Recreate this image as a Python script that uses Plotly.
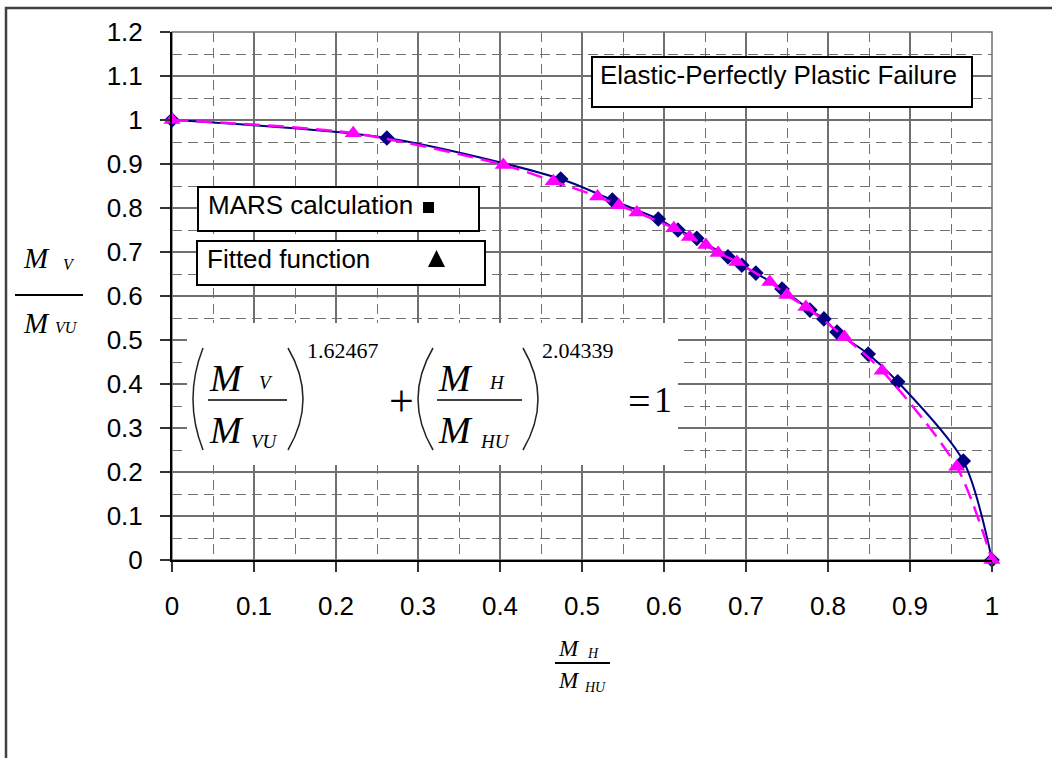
import plotly.graph_objects as go

# MARS calculation results (normalised moment capacities)
mars_x = [0.0, 0.262, 0.474, 0.537, 0.593, 0.617, 0.640, 0.678, 0.695, 0.712,
          0.744, 0.778, 0.795, 0.811, 0.849, 0.885, 0.965, 1.0]
mars_y = [1.0, 0.959, 0.866, 0.818, 0.775, 0.750, 0.731, 0.689, 0.670, 0.652,
          0.616, 0.568, 0.548, 0.518, 0.468, 0.405, 0.225, 0.0]

# Fitted interaction function points
fit_x = [0.0, 0.221, 0.404, 0.465, 0.519, 0.545, 0.567, 0.612, 0.631, 0.651,
         0.666, 0.689, 0.729, 0.750, 0.773, 0.820, 0.866, 0.957, 1.0]
fit_y = [1.0, 0.970, 0.898, 0.861, 0.826, 0.806, 0.790, 0.754, 0.734, 0.716,
         0.698, 0.677, 0.632, 0.602, 0.575, 0.507, 0.430, 0.212, 0.0]

x_ticks = [0, 0.1, 0.2, 0.3, 0.4, 0.5, 0.6, 0.7, 0.8, 0.9, 1]
x_ticklabels = ["0", "0.1", "0.2", "0.3", "0.4", "0.5", "0.6", "0.7", "0.8", "0.9", "1"]
y_ticks = [0, 0.1, 0.2, 0.3, 0.4, 0.5, 0.6, 0.7, 0.8, 0.9, 1, 1.1, 1.2]
y_ticklabels = ["0", "0.1", "0.2", "0.3", "0.4", "0.5", "0.6", "0.7", "0.8", "0.9", "1", "1.1", "1.2"]

exp_v = "1.62467"
exp_h = "2.04339"

W, H = 1052, 758
ML, MT, PW, PH = 172, 32, 820, 528
SANS = "Liberation Sans, Arial, sans-serif"
SERIF = "Liberation Serif, Times New Roman, serif"
NAVY = "#000080"
MAGENTA = "#FF00FF"
GRID = "#707070"


def fx(p):
    return (p - ML) / PW


def fy(p):
    return (MT + PH - p) / PH


fig = go.Figure()

fig.add_trace(go.Scatter(
    x=mars_x, y=mars_y, mode="lines+markers", name="MARS calculation",
    line=dict(color=NAVY, width=2, shape="spline", smoothing=0.8),
    marker=dict(symbol="diamond", size=12, color=NAVY),
    cliponaxis=False,
))
fig.add_trace(go.Scatter(
    x=fit_x, y=fit_y, mode="lines+markers", name="Fitted function",
    line=dict(color=MAGENTA, width=2.5, dash="16px,8px", shape="spline", smoothing=0.8),
    marker=dict(symbol="triangle-up", size=15, color=MAGENTA),
    cliponaxis=False,
))

shapes = []
annotations = []


def box(x0, y0, x1, y1, line=True):
    shapes.append(dict(
        type="rect", xref="paper", yref="paper", layer="above",
        x0=fx(x0), x1=fx(x1), y0=fy(y0), y1=fy(y1),
        line=dict(color="black", width=2 if line else 0),
        fillcolor="white",
    ))


def hline(x0, x1, y, width=1.5):
    shapes.append(dict(
        type="line", xref="paper", yref="paper", layer="above",
        x0=fx(x0), x1=fx(x1), y0=fy(y), y1=fy(y),
        line=dict(color="black", width=width),
    ))


def paren(x_end, x_ctrl, y_top, y_bot):
    ym = (y_top + y_bot) / 2
    path = "M {:.5f},{:.5f} Q {:.5f},{:.5f} {:.5f},{:.5f}".format(
        fx(x_end), fy(y_top), fx(x_ctrl), fy(ym), fx(x_end), fy(y_bot))
    shapes.append(dict(type="path", xref="paper", yref="paper", layer="above",
                       path=path, line=dict(color="#222222", width=1.5)))


def text(s, x, y, size, family=SANS, italic=False, xanchor="center"):
    if italic:
        s = "<i>" + s + "</i>"
    annotations.append(dict(
        text=s, x=fx(x), y=fy(y), xref="paper", yref="paper",
        xanchor=xanchor, yanchor="middle", showarrow=False,
        font=dict(family=family, size=size, color="black"),
    ))


# Plot-area frame (grey) and outer chart border
shapes.append(dict(type="rect", xref="paper", yref="paper", layer="below",
                   x0=0, x1=1, y0=0, y1=1, line=dict(color=GRID, width=1.5)))
shapes.append(dict(type="rect", xref="paper", yref="paper", layer="above",
                   x0=fx(6), x1=fx(1070), y0=fy(8), y1=fy(780),
                   line=dict(color="#404040", width=2.5), fillcolor="rgba(0,0,0,0)"))

# Title box
box(592, 57, 972, 107)
text("Elastic-Perfectly Plastic Failure", 598, 75, 26, xanchor="left")

# Legend-style boxes
box(198, 187, 479, 231)
text("MARS calculation", 206, 205, 26, xanchor="left")
shapes.append(dict(type="rect", xref="paper", yref="paper", layer="above",
                   x0=fx(423), x1=fx(434), y0=fy(213), y1=fy(202),
                   line=dict(width=0), fillcolor="black"))
box(197, 241, 485, 285)
text("Fitted function", 205, 259, 26, xanchor="left")
shapes.append(dict(type="path", xref="paper", yref="paper", layer="above",
                   path="M {:.5f},{:.5f} L {:.5f},{:.5f} L {:.5f},{:.5f} Z".format(
                       fx(428), fy(267), fx(445), fy(267), fx(436.5), fy(250)),
                   line=dict(width=0), fillcolor="black"))

# Interaction equation
box(187, 323, 678, 465, line=False)
paren(203, 183, 348, 450)
paren(288, 318, 348, 450)
paren(433, 403, 348, 450)
paren(523, 553, 348, 450)
hline(208, 287, 400)
hline(437, 522, 400)
text("M", 226, 378, 38, SERIF, True)
text("V", 266, 382, 19, SERIF, True)
text("M", 226, 430, 38, SERIF, True)
text("VU", 264, 441, 19, SERIF, True)
text("M", 455, 378, 38, SERIF, True)
text("H", 497, 382, 19, SERIF, True)
text("M", 455, 430, 38, SERIF, True)
text("HU", 495, 441, 19, SERIF, True)
text(exp_v, 343, 350, 22, SERIF)
text(exp_h, 578, 350, 22, SERIF)
text("+", 401, 401, 44, SERIF)
text("=", 639, 401, 40, SERIF)
text("1", 663, 400, 36, SERIF)

# Vertical axis title
hline(15, 83, 295, 2)
text("M", 36, 258, 29, SERIF, True)
text("V", 69, 264, 16, SERIF, True)
text("M", 36, 323, 29, SERIF, True)
text("VU", 66, 327, 16, SERIF, True)

# Horizontal axis title
hline(555, 610, 663, 2)
text("M", 569, 648, 23, SERIF, True)
text("H", 593, 653, 14, SERIF, True)
text("M", 569, 680, 23, SERIF, True)
text("HU", 595, 687, 14, SERIF, True)

axis_common = dict(
    showgrid=True, gridcolor=GRID, gridwidth=1.5,
    zeroline=False, showline=True, linecolor="black", linewidth=2,
    ticks="outside", ticklen=10, tickwidth=1.5, tickcolor="#333333",
    tickfont=dict(family=SANS, size=26, color="black"),
    minor=dict(showgrid=True, gridcolor=GRID, gridwidth=1.2, griddash="10px,6px", ticks=""),
)

fig.update_xaxes(range=[0, 1], tickvals=x_ticks, ticktext=x_ticklabels,
                 minor_dtick=0.05, ticklabelstandoff=12, **axis_common)
fig.update_yaxes(range=[0, 1.2], tickvals=y_ticks, ticktext=y_ticklabels,
                 minor_dtick=0.05, ticklabelstandoff=12, **axis_common)

fig.update_layout(
    width=W, height=H,
    margin=dict(l=ML, r=W - ML - PW, t=MT, b=H - MT - PH, pad=0),
    paper_bgcolor="white", plot_bgcolor="white",
    showlegend=False,
    shapes=shapes, annotations=annotations,
    font=dict(family=SANS, color="black"),
)

fig.write_html("out.html")
